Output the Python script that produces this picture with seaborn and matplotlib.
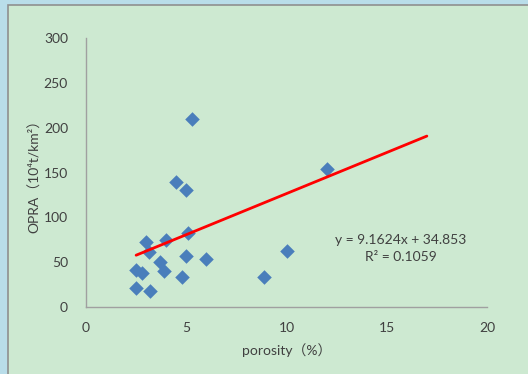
import matplotlib
matplotlib.use("Agg")
import matplotlib.pyplot as plt
import seaborn as sns
import numpy as np
import pandas as pd
from matplotlib.patches import Rectangle

porosity = [5.3, 4.5, 5.0, 5.1, 3.0, 3.15, 4.0, 3.7, 3.9, 2.5, 2.8, 2.5, 3.2, 4.8, 5.0, 6.0, 8.9, 10.0, 12.0]
opra = [210, 139, 131, 82, 72, 61, 75, 50, 40, 41, 38, 21, 18, 33, 57, 54, 33, 63, 154]
slope = 9.1624
intercept = 34.853
r2 = 0.1059
trend_end = 17.0
x_ticks = [0, 5, 10, 15, 20]
y_ticks = [0, 50, 100, 150, 200, 250, 300]

df = pd.DataFrame({"porosity": porosity, "opra": opra})

sns.set_style("white")
plt.rcParams['font.family'] = ['Lato', 'Noto Sans CJK SC', 'DejaVu Sans']

fig = plt.figure(figsize=(5.28, 3.74), dpi=100)
fig.patch.set_facecolor("#b9dde9")
W, H = 528, 374
fig.patches.append(Rectangle((8 / W, -0.01), 1 - 8 / W + 0.01, 1 - 5 / H + 0.01, transform=fig.transFigure,
                             facecolor="#cde9d1", edgecolor="#8f8f8f", linewidth=1.2, zorder=-10))

ax = fig.add_axes([86 / W, 1 - 307 / H, (487 - 86) / W, (307 - 38) / H])
ax.set_facecolor("none")
ax.set_zorder(5)

sns.scatterplot(data=df, x="porosity", y="opra", ax=ax, marker="D", s=55,
                color="#4a7ebb", edgecolor="#4a7ebb", linewidth=0, zorder=3)

xl = np.array([min(porosity), trend_end])
ax.plot(xl, slope * xl + intercept, color="#ff0000", linewidth=2.0, zorder=4)

ax.set_xlim(0, 20)
ax.set_ylim(0, 300)
ax.set_xticks(x_ticks)
ax.set_yticks(y_ticks)
for s in ["top", "right"]:
    ax.spines[s].set_visible(False)
for s in ["left", "bottom"]:
    ax.spines[s].set_color("#a0a0a0")
    ax.spines[s].set_linewidth(1.0)
ax.tick_params(axis="both", direction="out", length=4, width=1, color="#a0a0a0",
               labelsize=10, labelcolor="#404040", pad=7)
ax.tick_params(axis="y", pad=9)
ax.set_xlabel("porosity（%）", fontsize=10, color="#404040", labelpad=6)
ax.set_ylabel("OPRA（10⁴t/km²）", fontsize=10, color="#404040", labelpad=2)

ax.text(15.7, 65, f"y = {slope}x + {intercept}\nR² = {r2}", fontsize=10, color="#404040",
        ha="center", va="center", linespacing=1.55)

fig.savefig("out.png", dpi=100)
